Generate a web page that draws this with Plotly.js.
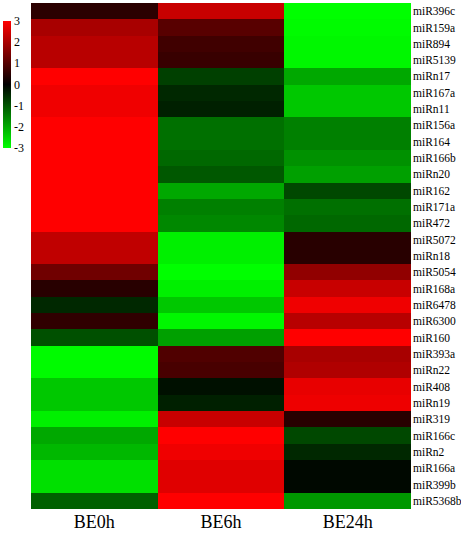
<!DOCTYPE html>
<html>
<head>
<meta charset="utf-8">
<script src="https://cdn.plot.ly/plotly-3.0.1.min.js"></script>
<style>
  html, body { margin: 0; padding: 0; background: #fff; }
  #heatmap { width: 461px; height: 533px; }
</style>
</head>
<body>
<div id="heatmap"></div>
<script>
// Expression heatmap (log2 scaled, -3..3)

const samples = ['BE0h', 'BE6h', 'BE24h'];

const mirnas = [
    'miR396c', 'miR159a', 'miR894', 'miR5139', 'miRn17', 'miR167a', 'miRn11',
    'miR156a', 'miR164', 'miR166b', 'miRn20', 'miR162', 'miR171a', 'miR472',
    'miR5072', 'miRn18', 'miR5054', 'miR168a', 'miR6478', 'miR6300', 'miR160',
    'miR393a', 'miRn22', 'miR408', 'miRn19', 'miR319', 'miR166c', 'miRn2',
    'miR166a', 'miR399b', 'miR5368b'
];

const be0h = [
    0.5, 1.98, 2.17, 2.17, 3, 2.82, 2.82,
    3, 3, 3, 3, 3, 3, 3,
    2.26, 2.26, 1.32, 0.47, -0.47, 0.56, -0.94,
    -2.95, -2.95, -2.35, -2.35, -2.82, -1.98, -2.17,
    -2.63, -2.63, -1.13
];

const be6h = [
    2.35, 1.04, 0.75, 0.66, -0.75, -0.47, -0.38,
    -1.32, -1.32, -1.22, -1.04, -1.98, -1.5, -1.6,
    -2.82, -2.82, -3, -2.82, -2.35, -2.9, -1.88,
    0.94, 0.85, -0.19, -0.38, 2.35, 3, 2.82,
    2.63, 2.63, 3
];

const be24h = [
    -3, -2.95, -2.9, -2.9, -1.98, -2.35, -2.35,
    -1.5, -1.5, -1.7, -1.88, -0.85, -1.32, -1.22,
    0.47, 0.47, 1.7, 2.35, 2.82, 2.17, 3,
    1.98, 2.07, 2.73, 2.8, 0.47, -0.85, -0.47,
    -0.1, -0.1, -1.79
];

const colorTicks = [3, 2, 1, 0, -1, -2, -3];

// build z as rows x columns
const z = mirnas.map(function(name, i) {
    return [be0h[i], be6h[i], be24h[i]];
});

const serif = 'Times New Roman, serif';

Plotly.newPlot('heatmap', [{
    type: 'heatmap',
    x: samples,
    y: mirnas,
    z: z,
    zmin: -3,
    zmax: 3,
    colorscale: [[0, '#00ff00'], [0.5, '#000000'], [1, '#ff0000']],
    colorbar: {
        xref: 'container',
        yref: 'container',
        x: 3 / 461,
        xanchor: 'left',
        y: 1 - 22 / 533,
        yanchor: 'top',
        thickness: 8,
        thicknessmode: 'pixels',
        len: 127,
        lenmode: 'pixels',
        xpad: 0,
        ypad: 0,
        outlinewidth: 0,
        tickvals: colorTicks,
        ticktext: colorTicks.map(String),
        ticks: '',
        tickfont: { family: serif, size: 12, color: '#000' }
    }
}], {
    width: 461,
    height: 533,
    margin: { l: 31, r: 50, t: 3, b: 24 },
    paper_bgcolor: '#fff',
    plot_bgcolor: '#fff',
    xaxis: {
        showgrid: false,
        zeroline: false,
        ticks: '',
        ticklabelstandoff: 0,
        tickfont: { family: serif, size: 18, color: '#000' }
    },
    yaxis: {
        autorange: 'reversed',
        side: 'right',
        showgrid: false,
        zeroline: false,
        ticks: '',
        ticklabelstandoff: 1,
        tickfont: { family: serif, size: 11.5, color: '#000' }
    }
}, {
    displayModeBar: false,
    staticPlot: true
});
</script>
</body>
</html>
